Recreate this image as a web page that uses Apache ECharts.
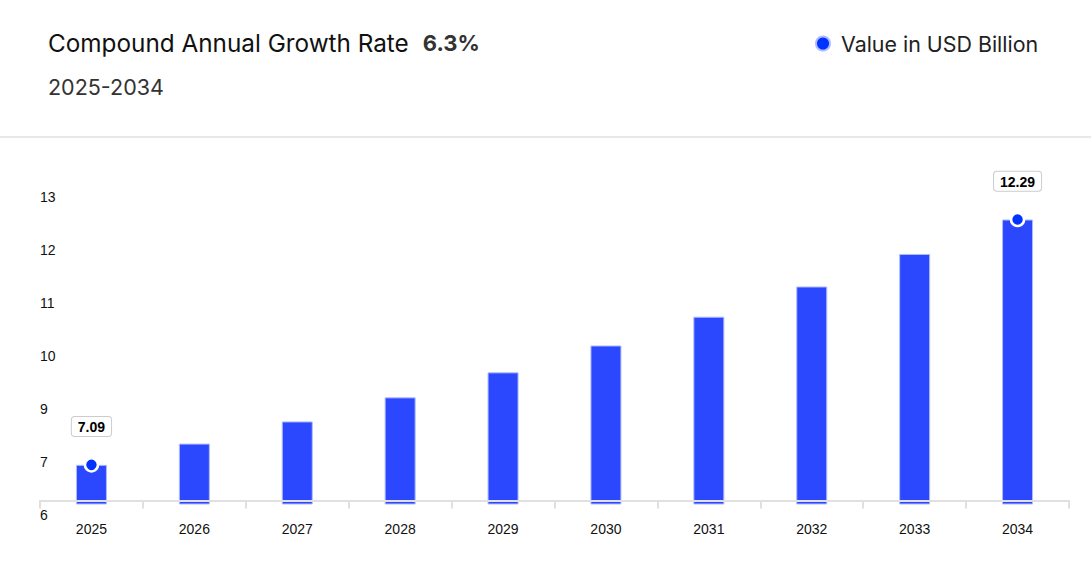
<!DOCTYPE html>
<html>
<head>
<meta charset="utf-8">
<script src="https://cdn.jsdelivr.net/npm/echarts@6/dist/echarts.min.js"></script>
<style>
html,body{margin:0;padding:0;background:#fff;}
#chart{width:1091px;height:564px;}
</style>
</head>
<body>
<div id="chart"></div>
<script>
var years = ['2025','2026','2027','2028','2029','2030','2031','2032','2033','2034'];
var values = [7.09, 7.54, 8.01, 8.52, 9.05, 9.62, 10.23, 10.87, 11.56, 12.29];
var tickLabels = ['6','7','9','10','11','12','13'];
var seriesName = 'Value in USD Billion';
var titleText = 'Compound Annual Growth Rate';
var cagrText = '6.3%';
var periodText = '2025-2034';

var markerData = values.map(function (v, i) {
  return (i === 0 || i === values.length - 1) ? v : null;
});

var chart = echarts.init(document.getElementById('chart'), null, {renderer: 'svg'});
chart.setOption({
  animation: false,
  backgroundColor: '#ffffff',
  title: [{
    text: '{a|' + titleText + '}{b|' + cagrText + '}',
    left: 48, top: 28, padding: 0,
    textStyle: {
      fontWeight: 'normal',
      rich: {
        a: {fontFamily: 'Inter', fontSize: 24.3, fontWeight: 'normal', color: '#111111', lineHeight: 30},
        b: {fontFamily: 'Inter', fontSize: 22, fontWeight: 'bold', color: '#333333', lineHeight: 30, padding: [0, 0, 0, 14]}
      }
    }
  }, {
    text: periodText,
    left: 48, top: 72, padding: 0,
    textStyle: {fontFamily: 'Inter', fontSize: 21.5, fontWeight: 'normal', color: '#333333', lineHeight: 30}
  }],
  graphic: [{
    type: 'rect', left: 0, top: 136,
    shape: {width: 1091, height: 2},
    style: {fill: '#e8e8e8'}
  }],
  legend: {
    left: 810, top: 28,
    itemWidth: 14, itemHeight: 14, icon: 'circle',
    data: [{name: seriesName, itemStyle: {color: '#0033ff'}}],
    textStyle: {fontFamily: 'Inter', fontSize: 21.4, color: '#222222', padding: [0, 0, 0, 6]},
    selectedMode: false
  },
  grid: {left: 40, right: 22, top: 186, bottom: 60},
  xAxis: {
    type: 'category',
    data: years,
    offset: -3.5,
    z: 3,
    axisLine: {show: true, lineStyle: {color: '#e0e0e0', width: 2}},
    axisTick: {show: true, length: 8, lineStyle: {color: '#e0e0e0', width: 2}},
    axisLabel: {fontFamily: 'Arial, Liberation Sans', fontSize: 14, color: '#111111', margin: 21}
  },
  yAxis: [{
    type: 'value', min: 6.26, max: 13.0,
    show: false,
    splitLine: {show: false}
  }, {
    type: 'value', min: 0, max: 6, interval: 1,
    position: 'left',
    axisLine: {show: false}, axisTick: {show: false}, splitLine: {show: false},
    axisLabel: {
      inside: true, margin: 0, align: 'left', verticalAlign: 'top',
      lineHeight: 21,
      fontFamily: 'Arial, Liberation Sans', fontSize: 14, color: '#111111',
      formatter: function (v) { return tickLabels[Math.round(v)] || ''; }
    }
  }],
  series: [{
    name: seriesName,
    type: 'bar',
    yAxisIndex: 0,
    data: values,
    barWidth: 31,
    itemStyle: {color: '#2b48ff', borderColor: '#aebbff', borderWidth: 1}
  }, {
    name: 'marker',
    type: 'scatter',
    yAxisIndex: 0,
    data: markerData,
    symbol: 'circle',
    symbolSize: 13,
    z: 5,
    itemStyle: {color: '#0033ff', borderColor: '#ffffff', borderWidth: 2.5, opacity: 1},
    label: {
      show: true, position: 'top', distance: 21,
      fontFamily: 'Arial, Liberation Sans', fontSize: 14, fontWeight: 'bold', color: '#000000',
      backgroundColor: '#ffffff', borderColor: '#cccccc', borderWidth: 1, borderRadius: 3,
      padding: [3, 6, 2, 6],
      formatter: function (p) { return p.value.toFixed(2); }
    }
  }]
});
</script>
</body>
</html>
